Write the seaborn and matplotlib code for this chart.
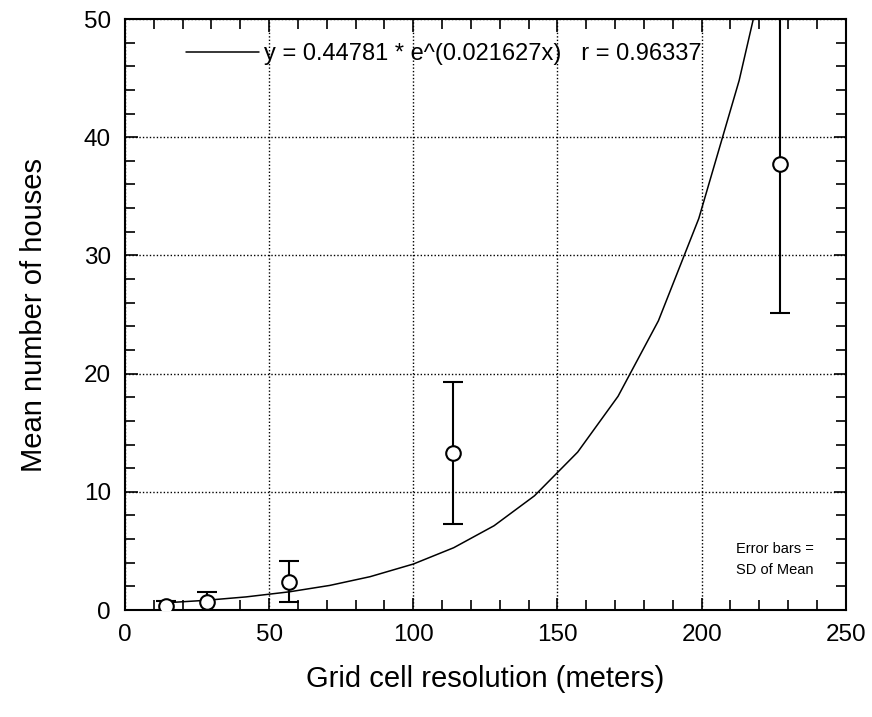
import numpy as np
import pandas as pd
import matplotlib.pyplot as plt
import seaborn as sns
from matplotlib.ticker import MultipleLocator

# grid cell resolution (m), mean houses and SD
resolution = [14.2, 28.4, 56.8, 113.6, 227.2]
mean_houses = [0.34, 0.7, 2.4, 13.3, 37.7]
sd_houses = [0.4, 0.8, 1.75, 6.0, 12.6]

# exponential fit line
fit_x = [14, 28, 42, 57, 71, 85, 100, 114, 128, 142, 157, 171, 185, 199, 213, 220]
fit_y = [0.61, 0.82, 1.11, 1.54, 2.08, 2.82, 3.89, 5.27, 7.13, 9.66, 13.36, 18.08, 24.47, 33.12, 44.8, 52.2]
fit_label = "y = 0.44781 * e^(0.021627x)   r = 0.96337"

sns.set_style("ticks")
plt.rcParams['font.family'] = ['Liberation Sans', 'DejaVu Sans']
for k in ["text.color", "axes.labelcolor", "xtick.color", "ytick.color", "axes.edgecolor"]:
    plt.rcParams[k] = "black"

pts = pd.DataFrame({"res": resolution, "mean": mean_houses, "sd": sd_houses})
fit = pd.DataFrame({"x": fit_x, "y": fit_y})

fig = plt.figure(figsize=(8.72, 7.17), dpi=100)
ax = fig.add_axes([0.1433, 0.1492, 0.8267, 0.8243])

sns.lineplot(data=fit, x="x", y="y", ax=ax, color="black", lw=1.1, label=fit_label)
ax.errorbar(pts["res"], pts["mean"], yerr=pts["sd"], fmt="none", ecolor="black",
            elinewidth=1.5, capsize=7, capthick=1.5)
sns.scatterplot(data=pts, x="res", y="mean", ax=ax, marker="o", s=110,
                facecolor="white", edgecolor="black", linewidth=1.5, zorder=5)

ax.set_xlim(0, 250)
ax.set_ylim(0, 50)
ax.xaxis.set_major_locator(MultipleLocator(50))
ax.xaxis.set_minor_locator(MultipleLocator(10))
ax.yaxis.set_major_locator(MultipleLocator(10))
ax.yaxis.set_minor_locator(MultipleLocator(2))
ax.tick_params(which="both", direction="in", top=True, right=True, labelsize=17.5, pad=10)
ax.tick_params(which="major", length=9, width=1.2)
ax.tick_params(which="minor", length=7, width=1.2)
ax.grid(True, which="major", color="black", linestyle=(0, (1, 1.5)), lw=1)
for s in ax.spines.values():
    s.set_linewidth(1.5)

ax.set_xlabel("Grid cell resolution (meters)", fontsize=21, labelpad=14)
ax.set_ylabel("Mean number of houses", fontsize=21, labelpad=26)

leg = ax.legend(loc="upper left", bbox_to_anchor=(0.055, 0.995), frameon=False,
                fontsize=17, handlelength=3.1, handletextpad=0.2)
ax.text(0.955, 0.085, "Error bars =\nSD of Mean", transform=ax.transAxes,
        ha="right", va="center", fontsize=10.5, linespacing=1.6)

plt.savefig("out.png", dpi=100)
plt.close()
